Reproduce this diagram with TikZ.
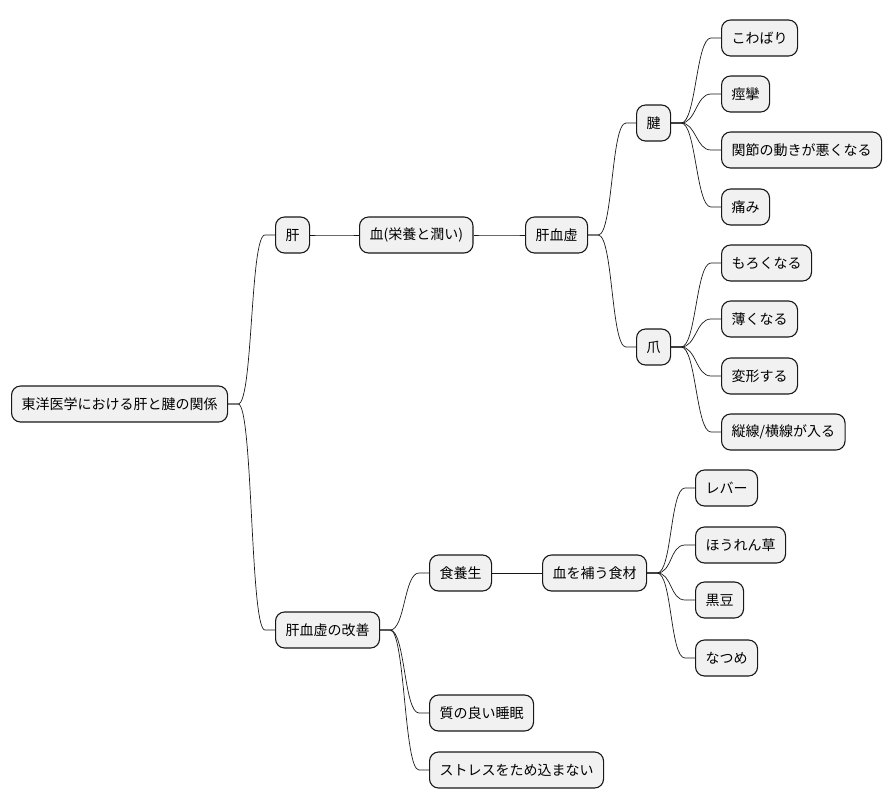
\documentclass[tikz,border=0pt]{standalone}
\usepackage{fontspec}
\newfontfamily\jp{Noto Sans CJK JP}
\definecolor{boxfill}{HTML}{F1F1F1}
\definecolor{boxline}{HTML}{181818}

\tikzset{
  topic/.style={draw=boxline, fill=boxfill, line width=1.1pt, rounded corners=9pt,
    minimum height=36pt, inner xsep=10pt, anchor=west,
    font=\jp\fontsize{14}{16}\selectfont},
  branch/.style={draw=boxline, line width=0.7pt,
    to path={(\tikztostart.east) -- ++(10pt,0)
      .. controls +(15pt,0) and +(-15pt,0) .. ([xshift=-10pt]\tikztotarget.west)
      -- (\tikztotarget.west)}}
}

\begin{document}
\begin{tikzpicture}[x=1pt, y=-1pt]
    \useasboundingbox (0,0) rectangle (891,809);

    % root and first branch
    \node[topic] (root) at (11,404) {東洋医学における肝と腱の関係};
    \node[topic] (kan) at (275,235) {肝};
    \node[topic] (chi) at (359,235) {血(栄養と潤い)};
    \node[topic] (kanketsu) at (525,235) {肝血虚};

    \node[topic] (ken) at (636,123) {腱};
    \node[topic] (kowabari) at (721,38) {こわばり};
    \node[topic] (keiren) at (721,94) {痙攣};
    \node[topic] (kansetsu) at (721,150) {関節の動きが悪くなる};
    \node[topic] (itami) at (721,207) {痛み};

    \node[topic] (tsume) at (636,347) {爪};
    \node[topic] (moroku) at (721,263) {もろくなる};
    \node[topic] (usuku) at (721,319) {薄くなる};
    \node[topic] (henkei) at (721,376) {変形する};
    \node[topic] (jusen) at (721,432) {縦線/横線が入る};

    % second branch
    \node[topic] (kaizen) at (275,630) {肝血虚の改善};
    \node[topic] (shokuyo) at (429,573) {食養生};
    \node[topic] (shokuzai) at (542,573) {血を補う食材};
    \node[topic] (reba) at (695,488) {レバー};
    \node[topic] (horenso) at (695,545) {ほうれん草};
    \node[topic] (kuromame) at (695,600) {黒豆};
    \node[topic] (natsume) at (695,658) {なつめ};
    \node[topic] (suimin) at (429,713) {質の良い睡眠};
    \node[topic] (stress) at (429,770) {ストレスをため込まない};

    \draw[branch] (root) to (kan);
    \draw[branch] (kan) to (chi);
    \draw[branch] (chi) to (kanketsu);
    \draw[branch] (kanketsu) to (ken);
    \draw[branch] (ken) to (kowabari);
    \draw[branch] (ken) to (keiren);
    \draw[branch] (ken) to (kansetsu);
    \draw[branch] (ken) to (itami);
    \draw[branch] (kanketsu) to (tsume);
    \draw[branch] (tsume) to (moroku);
    \draw[branch] (tsume) to (usuku);
    \draw[branch] (tsume) to (henkei);
    \draw[branch] (tsume) to (jusen);

    \draw[branch] (root) to (kaizen);
    \draw[branch] (kaizen) to (shokuyo);
    \draw[branch] (shokuyo) to (shokuzai);
    \draw[branch] (shokuzai) to (reba);
    \draw[branch] (shokuzai) to (horenso);
    \draw[branch] (shokuzai) to (kuromame);
    \draw[branch] (shokuzai) to (natsume);
    \draw[branch] (kaizen) to (suimin);
    \draw[branch] (kaizen) to (stress);
\end{tikzpicture}
\end{document}
